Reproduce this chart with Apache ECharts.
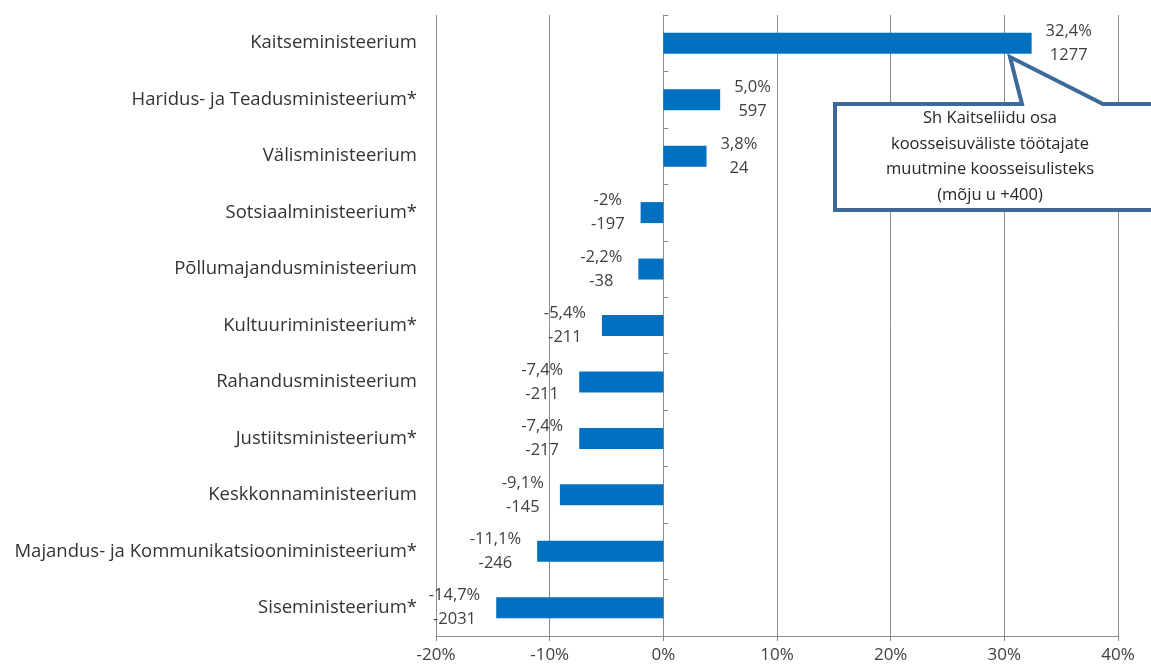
<!DOCTYPE html>
<html>
<head>
<meta charset="utf-8">
<script src="https://cdn.jsdelivr.net/npm/echarts@6/dist/echarts.min.js"></script>
<style>
  html, body { margin: 0; padding: 0; background: #fff; }
  #chart { width: 1151px; height: 669px; }
</style>
</head>
<body>
<div id="chart"></div>
<script>
const ministries = [
  'Kaitseministeerium',
  'Haridus- ja Teadusministeerium*',
  'Välisministeerium',
  'Sotsiaalministeerium*',
  'Põllumajandusministeerium',
  'Kultuuriministeerium*',
  'Rahandusministeerium',
  'Justiitsministeerium*',
  'Keskkonnaministeerium',
  'Majandus- ja Kommunikatsiooniministeerium*',
  'Siseministeerium*'
]
const changePct = [32.4, 5.0, 3.8, -2.0, -2.2, -5.4, -7.4, -7.4, -9.1, -11.1, -14.7]
const pctText = ['32,4%', '5,0%', '3,8%', '-2%', '-2,2%', '-5,4%', '-7,4%', '-7,4%', '-9,1%', '-11,1%', '-14,7%']
const changeCount = [1277, 597, 24, -197, -38, -211, -211, -217, -145, -246, -2031]
const xTicks = { min: -20, max: 40, step: 10 }

const font = '"Open Sans", "Liberation Sans", sans-serif'
const textColor = '#404040'
const gridColor = '#8c8c8c'

const W = 1151
const grid = { left: 436, right: 33, top: 15, bottom: 33 }
// the category axis line sits on 0 of the value axis
const zeroOffset = -(W - grid.left - grid.right) * (0 - xTicks.min) / (xTicks.max - xTicks.min)

const chart = echarts.init(document.getElementById('chart'))

chart.setOption({
  animation: false,
  grid: grid,
  xAxis: {
    type: 'value',
    min: xTicks.min,
    max: xTicks.max,
    interval: xTicks.step,
    axisLine: { show: true, onZero: false, lineStyle: { color: gridColor } },
    axisTick: { show: true, length: 5, lineStyle: { color: gridColor } },
    splitLine: { lineStyle: { color: gridColor } },
    axisLabel: { formatter: '{value}%', color: textColor, fontFamily: font, fontSize: 17, margin: 11 }
  },
  yAxis: [
    {
      type: 'category',
      data: ministries,
      inverse: true,
      axisLine: { show: false },
      axisTick: { show: false },
      axisLabel: { color: '#333', fontFamily: font, fontSize: 18.5, margin: 19 }
    },
    {
      type: 'category',
      data: ministries,
      inverse: true,
      position: 'left',
      offset: zeroOffset,
      axisLine: { show: true, onZero: false, lineStyle: { color: gridColor } },
      axisTick: { show: true, inside: true, length: 5, lineStyle: { color: gridColor } },
      axisLabel: { show: false }
    }
  ],
  series: [{
    type: 'bar',
    data: changePct.map(v => v < 0 ? { value: v, label: { position: 'left', distance: 16 } } : v),
    barWidth: 21,
    itemStyle: { color: '#0070C0' },
    label: {
      show: true,
      position: 'right',
      distance: 14,
      formatter: p => '{a|' + pctText[p.dataIndex] + '}\n{a|' + changeCount[p.dataIndex] + '}',
      rich: {
        a: {
          align: 'center',
          color: textColor,
          fontFamily: font,
          fontSize: 16.5,
          lineHeight: 24
        }
      }
    },
    z: 3
  }],
  graphic: [
    {
      type: 'polygon',
      z: 10,
      shape: {
        points: [[835, 104], [1022, 104], [1010, 57], [1103, 104], [1160, 104], [1160, 210], [835, 210]]
      },
      style: { fill: '#fff', stroke: '#3E6A9A', lineWidth: 4 }
    },
    {
      type: 'text',
      z: 11,
      x: 990,
      y: 157,
      style: {
        text: 'Sh Kaitseliidu osa\nkoosseisuväliste töötajate\nmuutmine koosseisulisteks\n(mõju u +400)',
        align: 'center',
        verticalAlign: 'middle',
        fontFamily: font,
        fontSize: 16.5,
        lineHeight: 25.5,
        fill: '#262626'
      }
    }
  ]
})
</script>
</body>
</html>
